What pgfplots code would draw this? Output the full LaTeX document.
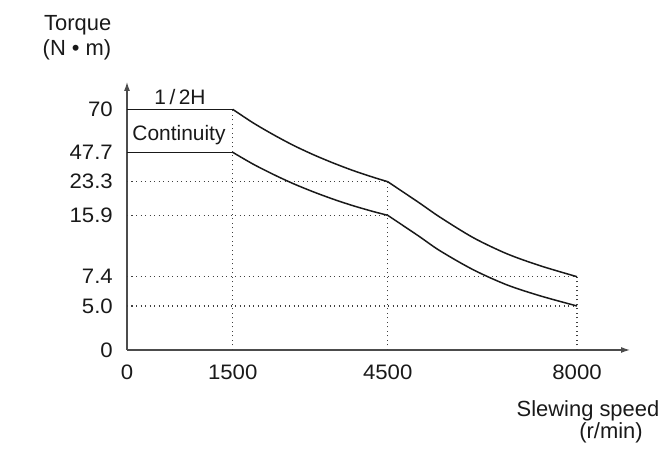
\documentclass[border=0pt]{standalone}
\usepackage{fontspec}
\setmainfont{Liberation Sans}
\newfontfamily\tickfont[FakeStretch=1.06]{Liberation Sans}
\usepackage{pgfplots}
\pgfplotsset{compat=1.18}
\usetikzlibrary{arrows.meta}

\begin{document}
\begin{tikzpicture}
\begin{axis}[
  x=1bp, y=1bp, xmin=127, xmax=630, ymin=100, ymax=368,
  axis lines=left, clip=false,
  axis line style={draw=black!70, line width=1.2bp, -{Latex[length=9bp,width=6bp]}},
  xtick={127,232.7,387.7,577}, xticklabels={0,1500,4500,8000},
  ytick={100,144,173.3,234.7,268.3,297.7,340.7},
  yticklabels={0,5.0,7.4,15.9,23.3,47.7,70},
  major tick length=0pt,
  tick label style={font=\tickfont\fontsize{21}{24}\selectfont, inner sep=0pt, text=black!90},
  xticklabel style={anchor=north, yshift=-15bp},
  yticklabel style={anchor=east, xshift=-14bp},
  /pgf/number format/assume math mode=true,
  dotl/.style={draw=black!75, line width=1.1bp, dash pattern=on 1.3bp off 3.2bp},
  curve/.style={draw=black!90, line width=1.5bp},
]
% dotted guide lines
\addplot[dotl] coordinates {(127,268.3)(387.7,268.3)};
\addplot[dotl] coordinates {(127,234.7)(387.7,234.7)};
\addplot[dotl] coordinates {(127,173.3)(577,173.3)};
\addplot[dotl] coordinates {(127,144)(577,144)};
\addplot[dotl] coordinates {(232.7,100)(232.7,340.7)};
\addplot[dotl] coordinates {(387.7,100)(387.7,268.3)};
\addplot[dotl] coordinates {(577,100)(577,173.3)};
% 1/2H curve
\addplot[curve] coordinates {(127,340.7)(232.7,340.7)};
\addplot[curve, smooth] coordinates {(232.7,340.7)(252.7,327.4)(272.7,315.7)(292.7,305.0)(312.7,295.6)(332.7,287.2)(352.7,279.6)(372.7,272.9)(387.7,268.3)};
\addplot[curve, smooth] coordinates {(387.7,268.3)(418.3,247.8)(440,232.8)(473.3,212.3)(506.7,196.3)(540,184.3)(577,173.3)};
% Continuity curve
\addplot[curve] coordinates {(127,297.7)(232.7,297.7)};
\addplot[curve, smooth] coordinates {(232.7,297.7)(252.7,286.1)(272.7,275.9)(292.7,266.6)(312.7,258.4)(332.7,251.0)(352.7,244.4)(372.7,238.6)(387.7,234.7)};
\addplot[curve, smooth] coordinates {(387.7,234.7)(418.3,214.2)(440,199.2)(473.3,180.2)(506.7,165.2)(540,154.2)(577,144)};
% texts
\node[anchor=base, font=\fontsize{22}{26}\selectfont, inner sep=0pt, text=black!90] at (axis cs:77.7,419) {Torque};
\node[anchor=base, font=\fontsize{22}{26}\selectfont, inner sep=0pt, text=black!90] at (axis cs:77,394) {(N • m)};
\node[anchor=base, font=\fontsize{21}{26}\selectfont, inner sep=0pt, text=black!90] at (axis cs:180,345) {1\,/\,2H};
\node[anchor=base, font=\fontsize{21}{26}\selectfont, inner sep=0pt, text=black!90] at (axis cs:179,309) {Continuity};
\node[anchor=base, font=\fontsize{22}{26}\selectfont, inner sep=0pt, text=black!90] at (axis cs:588,33) {Slewing speed};
\node[anchor=base, font=\fontsize{22}{26}\selectfont, inner sep=0pt, text=black!90] at (axis cs:611,11) {(r/min)};
\coordinate (bl) at (axis cs:0,0);
\coordinate (tr) at (axis cs:669,450);
\end{axis}
\pgfresetboundingbox
\path[use as bounding box] (bl) rectangle (tr);
\end{tikzpicture}
\end{document}
